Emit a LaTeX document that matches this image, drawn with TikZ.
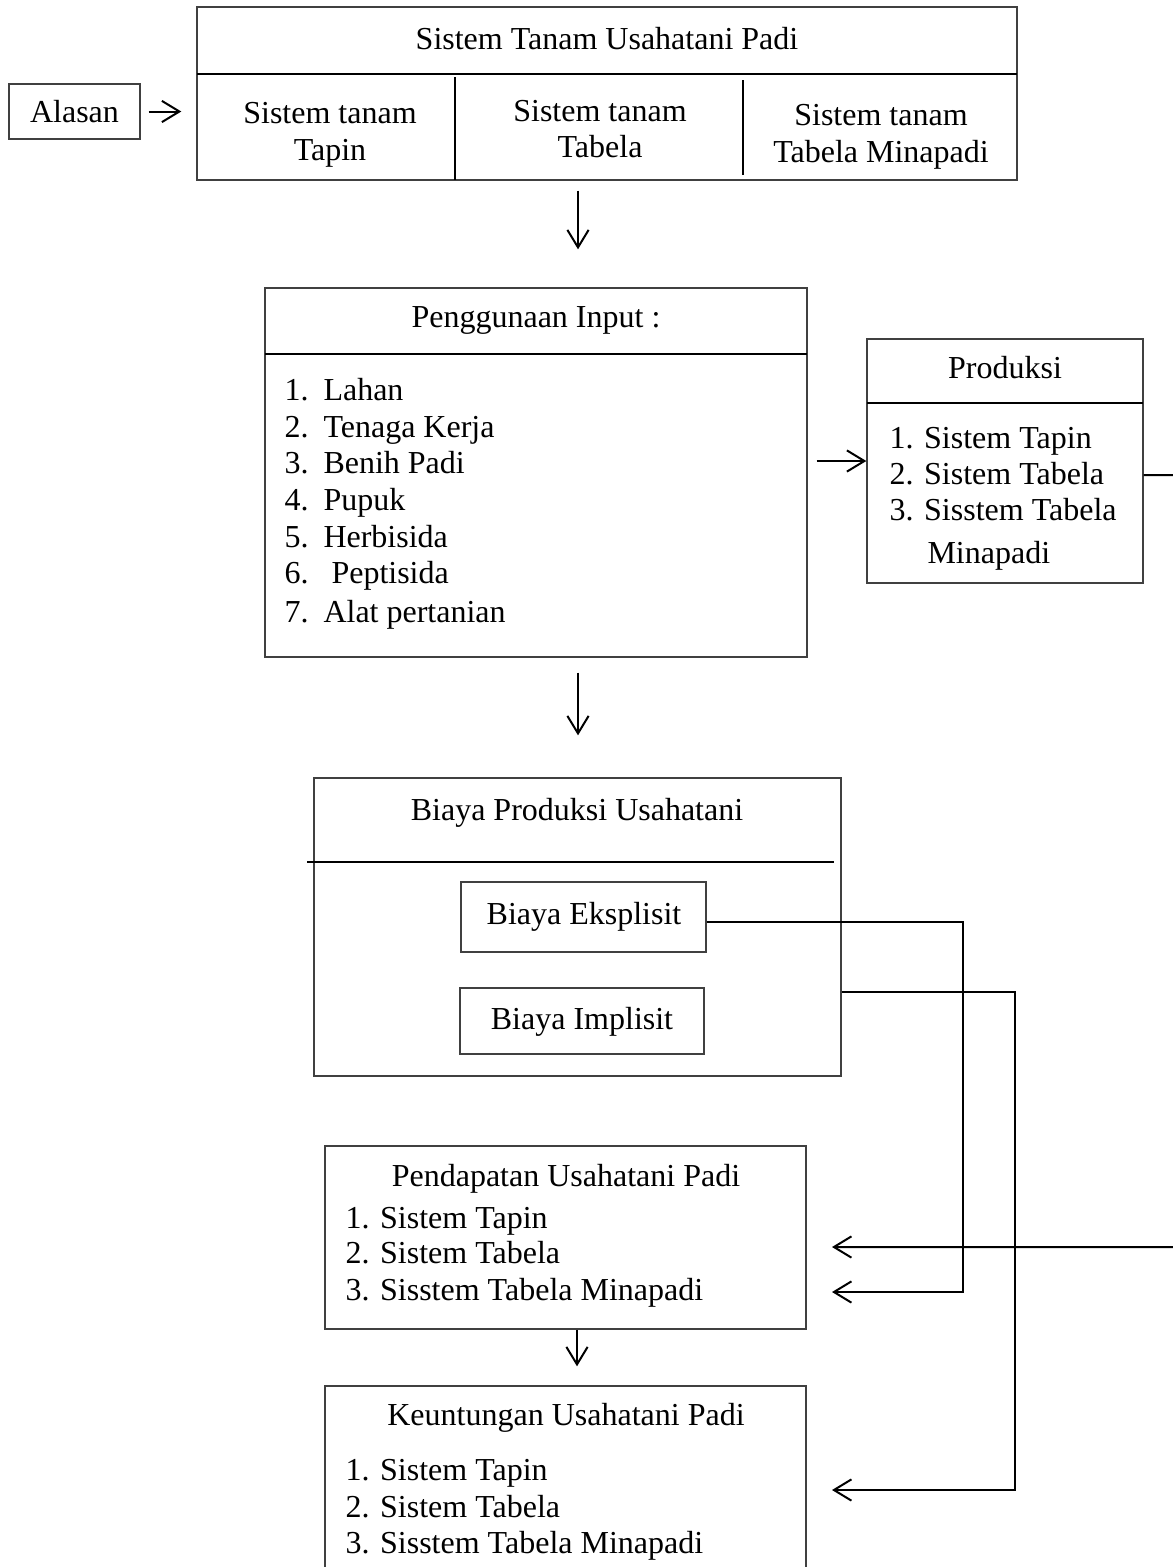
\documentclass[tikz,border=0pt]{standalone}
\usepackage{fontspec}
\setmainfont{Liberation Serif}
\usetikzlibrary{arrows.meta,fit}

\tikzset{
	kotak/.style={draw=black!75, line width=0.55pt, inner sep=0pt},
	garis/.style={black, line width=0.8pt},
	panah/.style={black, line width=0.8pt, -{Straight Barb[length=7pt,width=8.5pt]}},
	teks/.style={inner sep=0pt, anchor=base},
	butir/.style={inner sep=0pt, anchor=base west},
}

\begin{document}
\begin{tikzpicture}[x=0.4pt, y=-0.4pt, font=\fontsize{12.8}{15}\selectfont]
	\useasboundingbox (0,0) rectangle (1173,1567);
	\clip (0,0) rectangle (1173,1567);

	% alasan dan sistem tanam
	\node[kotak, fit={(9,84) (140,139)}] (alasan) {};
	\node[teks] (alasanTeks) at (alasan.center |- 0,122) {Alasan};
	\node[kotak, fit={(197,7) (1017,180)}] (sistem) {};
	\draw[garis] (197,74) -- (1017,74);
	\draw[garis] (455,77) -- (455,180);
	\draw[garis] (743,80) -- (743,175);
	\node[teks] (judul) at (607,49) {Sistem Tanam Usahatani Padi};
	\node[teks] (tapinA) at (330,123) {Sistem tanam};
	\node[teks] (tapinB) at (330,160) {Tapin};
	\node[teks] (tabelaA) at (600,121) {Sistem tanam};
	\node[teks] (tabelaB) at (600,157) {Tabela};
	\node[teks] (minaA) at (881,125) {Sistem tanam};
	\node[teks] (minaB) at (881,162) {Tabela Minapadi};
	\draw[panah, shorten <=3.2pt, shorten >=6pt] (alasan.east) -- (alasan.east -| sistem.west);

	% penggunaan input
	\node[kotak, fit={(265,288) (807,657)}] (input) {};
	\draw[garis] (265,354) -- (807,354);
	\node[teks] (inputJudul) at (536,327) {Penggunaan Input :};
	\foreach \i/\t/\x/\y in {1/Lahan/323/400, 2/Tenaga Kerja/323/437, 3/Benih Padi/323/473,
		4/Pupuk/323/510, 5/Herbisida/323/547, 6/Peptisida/331/583, 7/Alat pertanian/323/622} {
		\node[butir] (inNo\i) at (284,\y) {\i.};
		\node[butir] (in\i) at (\x,\y) {\t};
	}
	\coordinate (kolom) at (578,0);
	\draw[panah, shorten <=4pt, shorten >=15.2pt] (sistem.south -| kolom) -- (input.north -| kolom);

	% produksi
	\node[kotak, fit={(867,339) (1143,583)}] (prod) {};
	\draw[garis] (867,403) -- (1143,403);
	\node[teks] (prodJudul) at (1005,378) {Produksi};
	\node[butir] (prod1) at (889,448) {1. Sistem Tapin};
	\node[butir] (prod2) at (889,484) {2. Sistem Tabela};
	\node[butir] (prod3) at (889,520) {3. Sisstem Tabela};
	\node[butir] (prod3b) at (927,563) {Minapadi};
	\draw[panah, shorten <=3.6pt] (input.east |- prod.west) -- (prod.west);

	% biaya produksi
	\node[kotak, fit={(314,778) (841,1076)}] (biaya) {};
	\draw[garis] (307,862) -- (834,862);
	\node[teks] (biayaJudul) at (577,820) {Biaya Produksi Usahatani};
	\node[kotak, fit={(461,882) (706,952)}] (ekspl) {};
	\node[teks] (eksplTeks) at (584,924) {Biaya Eksplisit};
	\node[kotak, fit={(460,988) (704,1054)}] (impl) {};
	\node[teks] (implTeks) at (582,1029) {Biaya Implisit};
	\draw[panah, shorten <=6pt, shorten >=16.8pt] (input.south -| kolom) -- (biaya.north -| kolom);

	% pendapatan
	\node[kotak, fit={(325,1146) (806,1329)}] (pend) {};
	\node[teks] (pendJudul) at (566,1186) {Pendapatan Usahatani Padi};
	\node[butir] (pend1) at (345,1228) {1. Sistem Tapin};
	\node[butir] (pend2) at (345,1263) {2. Sistem Tabela};
	\node[butir] (pend3) at (345,1300) {3. Sisstem Tabela Minapadi};

	% keuntungan
	\node[kotak, fit={(325,1386) (806,1620)}] (untung) {};
	\node[teks] (untungJudul) at (566,1425) {Keuntungan Usahatani Padi};
	\node[butir] (untung1) at (345,1480) {1. Sistem Tapin};
	\node[butir] (untung2) at (345,1517) {2. Sistem Tabela};
	\node[butir] (untung3) at (345,1553) {3. Sisstem Tabela Minapadi};
	\draw[panah, shorten >=7.6pt] (pend.south -| 577,0) -- (untung.north -| 577,0);

	% garis ke pendapatan dan keuntungan
	\coordinate (masukA) at (832,1247);
	\coordinate (masukB) at (832,1292);
	\coordinate (masukC) at (832,1490);
	\draw[panah] ([yshift=-5.6pt]prod.east) -- (1210,475) -- (1210,1247) -- (masukA);
	\draw[panah] ([yshift=-2pt]ekspl.east) -| (963,1292) -- (masukB);
	\draw[panah] ([yshift=-26pt]biaya.east) -| (1015,1490) -- (masukC);
\end{tikzpicture}
\end{document}
